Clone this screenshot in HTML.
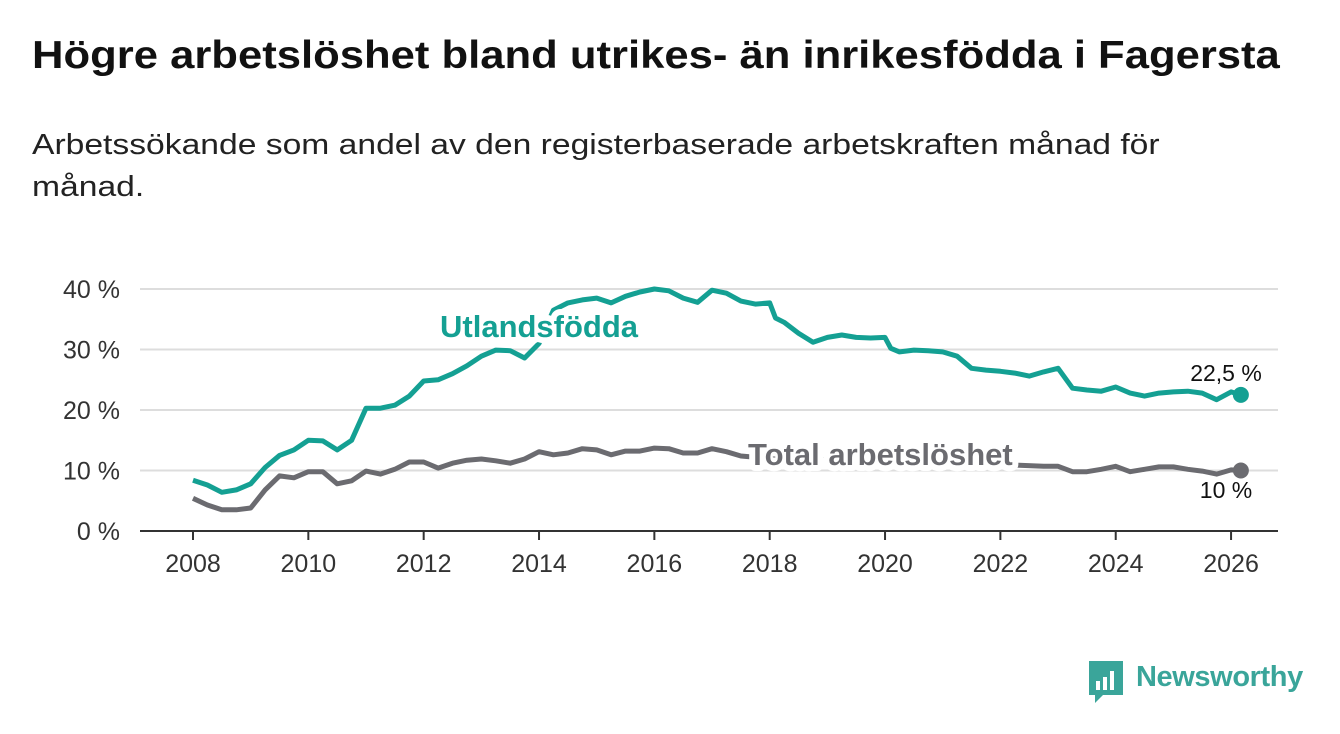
<!DOCTYPE html>
<html><head><meta charset="utf-8"><style>
body{margin:0;background:#fff;width:1340px;height:734px;overflow:hidden;font-family:"Liberation Sans",sans-serif}
#t{position:absolute;left:32px;top:34px;font-size:39px;font-weight:bold;color:#111;white-space:nowrap;transform-origin:0 0;transform:scaleX(1.118)}
#s{position:absolute;left:32px;top:124px;font-size:29px;color:#222;line-height:42px;white-space:nowrap;transform-origin:0 0;transform:scaleX(1.16)}
svg{position:absolute;left:0;top:0}
</style></head><body>
<div id="t">Högre arbetslöshet bland utrikes- än inrikesfödda i Fagersta</div>
<div id="s">Arbetssökande som andel av den registerbaserade arbetskraften månad för<br>månad.</div>
<svg id="c" width="1340" height="734"></svg>
<script>
const yearTicks=[2008,2010,2012,2014,2016,2018,2020,2022,2024,2026];
const valTicks=[0,10,20,30,40];
const tU=[2008,2008.25,2008.5,2008.75,2009,2009.25,2009.5,2009.75,2010,2010.25,2010.5,2010.75,2011,2011.25,2011.5,2011.75,2012,2012.25,2012.5,2012.75,2013,2013.25,2013.5,2013.75,2014,2014.25,2014.5,2014.75,2015,2015.25,2015.5,2015.75,2016,2016.25,2016.5,2016.75,2017,2017.25,2017.5,2017.75,2018,2018.1,2018.25,2018.5,2018.75,2019,2019.25,2019.5,2019.75,2020,2020.1,2020.25,2020.5,2020.75,2021,2021.25,2021.5,2021.75,2022,2022.25,2022.5,2022.75,2023,2023.25,2023.5,2023.75,2024,2024.25,2024.5,2024.75,2025,2025.25,2025.5,2025.75,2026,2026.17];
const utland=[8.4,7.6,6.4,6.8,7.8,10.5,12.5,13.4,15,14.9,13.4,15,20.3,20.3,20.8,22.3,24.8,25,26,27.3,28.9,29.9,29.8,28.6,31,36.5,37.7,38.2,38.5,37.7,38.8,39.5,40,39.7,38.5,37.8,39.8,39.3,38,37.5,37.7,35.2,34.5,32.7,31.2,32,32.4,32,31.9,32,30.2,29.6,29.9,29.8,29.6,28.9,26.9,26.6,26.4,26.1,25.6,26.3,26.9,23.6,23.3,23.1,23.8,22.8,22.3,22.8,23,23.1,22.8,21.7,23,22.5];
const tT=[2008,2008.25,2008.5,2008.75,2009,2009.25,2009.5,2009.75,2010,2010.25,2010.5,2010.75,2011,2011.25,2011.5,2011.75,2012,2012.25,2012.5,2012.75,2013,2013.25,2013.5,2013.75,2014,2014.25,2014.5,2014.75,2015,2015.25,2015.5,2015.75,2016,2016.25,2016.5,2016.75,2017,2017.25,2017.5,2017.75,2018.5,2019.5,2020.5,2021.5,2022.25,2022.75,2023,2023.25,2023.5,2023.75,2024,2024.25,2024.5,2024.75,2025,2025.25,2025.5,2025.75,2026,2026.17];
const total=[5.4,4.3,3.5,3.5,3.8,6.8,9.1,8.8,9.8,9.8,7.8,8.3,9.9,9.4,10.2,11.4,11.4,10.4,11.2,11.7,11.9,11.6,11.2,11.9,13.1,12.6,12.9,13.6,13.4,12.6,13.2,13.2,13.7,13.6,12.9,12.9,13.6,13.1,12.4,12.2,12,11.5,11.5,11.2,10.9,10.7,10.7,9.8,9.8,10.2,10.7,9.8,10.2,10.6,10.6,10.2,9.9,9.4,10.1,10];
const X=t=>193+(t-2008)*57.67, Y=v=>531-v*6.05;
const svg=document.getElementById('c'),NS='http://www.w3.org/2000/svg';
function mk(tag,at,txt){const e=document.createElementNS(NS,tag);for(const k in at)e.setAttribute(k,at[k]);if(txt!=null)e.textContent=txt;svg.appendChild(e);return e;}
valTicks.forEach(v=>{
 const g=mk('line',{x1:140,x2:1278,y1:Y(v),y2:Y(v),stroke:v?'#ddd':'#333','stroke-width':2});
 
 
 const l=mk('text',{x:120,y:Y(v)+9,'text-anchor':'end','font-size':25,fill:'#333'},v+' %');
 
 
});
yearTicks.forEach(y=>{
 const k=mk('line',{x1:X(y),x2:X(y),y1:531,y2:540,stroke:'#333','stroke-width':2});
 
 
 const l=mk('text',{x:X(y),y:572,'text-anchor':'middle','font-size':25,fill:'#333'},y);
 
 
});
function line(ts,vs,col,name){
 const p=mk('path',{d:ts.map((t,i)=>(i?'L':'M')+X(t).toFixed(1)+','+Y(vs[i]).toFixed(1)).join(''),fill:'none',stroke:col,'stroke-width':5,'stroke-linejoin':'round'});
 
 
 const n=ts.length-1;
 const c=mk('circle',{cx:X(ts[n]),cy:Y(vs[n]),r:8,fill:col});
 
 
}
line(tT,total,'#6b6b70','total-line');
line(tU,utland,'#14a093','utland-line');
function label(txt,x,y,col,name){
 const b=mk('text',{x:x,y:y,'font-size':31,'font-weight':'bold',fill:'#fff',stroke:'#fff','stroke-width':12,'stroke-linejoin':'round'},txt);
 
 
 const f=mk('text',{x:x,y:y,'font-size':31,'font-weight':'bold',fill:col},txt);
 
 
}
label('Utlandsfödda',440,337,'#14a093','utland-label');
label('Total arbetslöshet',748,465,'#6b6b70','total-label');
let a=mk('text',{x:1226,y:381,'text-anchor':'middle','font-size':23,fill:'#111'},'22,5 %');


a=mk('text',{x:1226,y:498,'text-anchor':'middle','font-size':23,fill:'#111'},'10 %');


</script>
<svg width="40" height="44" style="left:1089px;top:661px">
<path d="M0 0H34V34H14L6 42V34H0Z" fill="#3aa59a"/>
<rect x="7" y="20" width="4" height="9" fill="#fff"/><rect x="14" y="16" width="4" height="13" fill="#fff"/><rect x="21" y="10" width="4" height="19" fill="#fff"/>
</svg>
<div style="position:absolute;left:1136px;top:661px;font-size:29px;color:#3aa59a;font-weight:bold;letter-spacing:-0.4px">Newsworthy</div>
</body></html>
